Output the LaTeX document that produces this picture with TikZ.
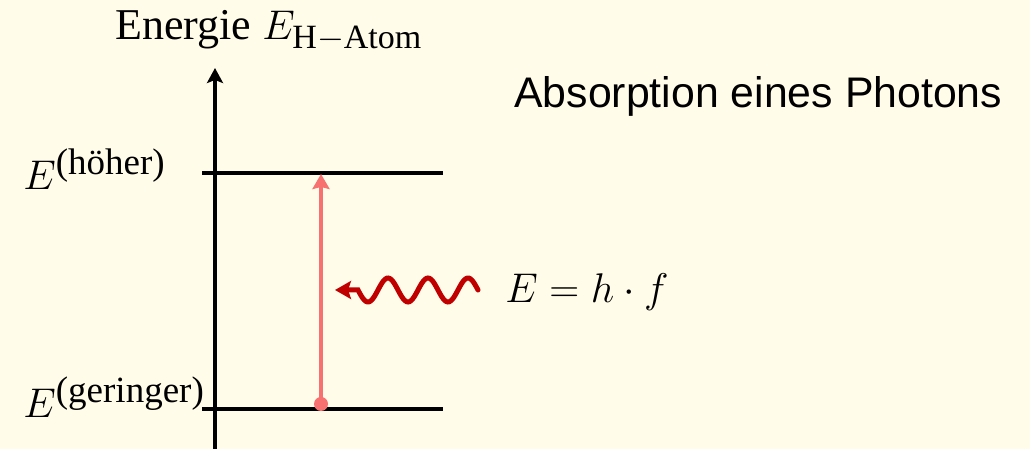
\documentclass[tikz,border=0pt]{standalone}
\usepackage{amsmath}
\usepackage{fontspec}
\setmainfont{Liberation Serif}
\newfontfamily\arialfont{Liberation Sans}
\usetikzlibrary{arrows.meta}
\definecolor{bgcream}{HTML}{FFFCE9}
\definecolor{transred}{HTML}{F87171}
\definecolor{photonred}{HTML}{C00000}
\newcommand\smalltxt[2][17]{\text{\fontsize{#1}{20}\selectfont #2}}
\begin{document}
\begin{tikzpicture}[x=.5pt,y=.5pt,
  lvl/.style={line width=2pt},
  lab/.style={inner sep=0,font=\fontsize{22}{26}\selectfont}]
\fill[bgcream](0,0)rectangle(1030,449);\useasboundingbox(0,0)rectangle(1030,449);
% energy axis
\coordinate(ax0)at(215,0);\coordinate(ax1)at(215,381);
\draw[lvl,-{Stealth[length=7.5pt,width=8pt,inset=1.5pt]}](ax0)--(ax1);
\node[lab,anchor=base west](axlab)at(115,409){Energie $E_{\smalltxt{H$-$Atom}}$};
% levels
\coordinate(hi0)at(202,276);\coordinate(hi1)at(443,276);\draw[lvl](hi0)--(hi1);
\coordinate(lo0)at(202,40);\coordinate(lo1)at(443,40);\draw[lvl](lo0)--(lo1);
\node[lab,anchor=base west](hilab)at(23,259){$E^{\smalltxt[18.5]{(höher)}}$};
\node[lab,anchor=base west](lolab)at(23,31){$E^{\smalltxt[18.5]{(geringer)}}$};
% transition
\node[circle,fill=transred,inner sep=0,minimum size=7pt](start)at(321,45){};
\coordinate(end)at(321,275);
\draw[transred,line width=1.6pt,-{Stealth[length=7.5pt,width=8.5pt,inset=1pt]}](start.center)--(end);
% photon
\coordinate(tip)at(335,159);\coordinate(wv)at(358,159);
\draw[photonred,line width=2.5pt,line cap=round,{Stealth[length=8pt,width=9pt,inset=1.5pt]}-](tip)--(wv)--plot[domain=358:478,samples=80,smooth](\x,{159+12*sin(9*(478-\x))});
\node[inner sep=0,anchor=base west,font=\fontsize{20}{24}\selectfont](elab)at(505,146){$E = h\cdot f$};
\node[inner sep=0,anchor=base west,font=\arialfont\fontsize{21.4}{25}\selectfont](title)at(514,341){Absorption eines Photons};
\end{tikzpicture}
\end{document}
